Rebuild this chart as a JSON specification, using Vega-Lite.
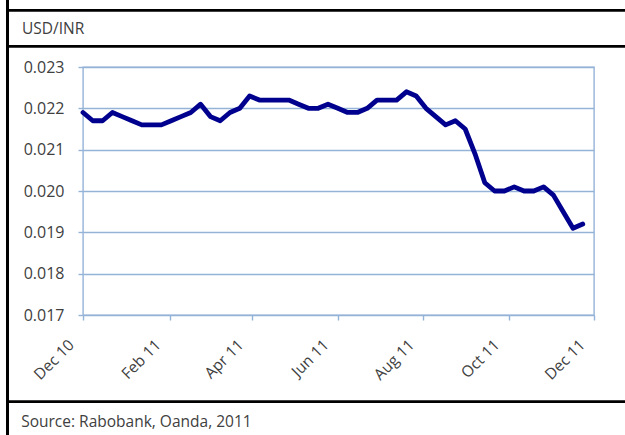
{
  "$schema": "https://vega.github.io/schema/vega-lite/v6.json",
  "width": 511,
  "height": 248,
  "autosize": {"type": "none"},
  "padding": {"left": 83, "top": 67, "right": 31, "bottom": 120},
  "background": "white",
  "config": {
    "view": {"stroke": "#95B3D7", "strokeWidth": 1.4},
    "font": "Open Sans"
  },
  "datasets": {
    "rates": [
      {"date": "2010-12-01", "rate": 0.0219},
      {"date": "2010-12-08", "rate": 0.0217},
      {"date": "2010-12-15", "rate": 0.0217},
      {"date": "2010-12-22", "rate": 0.0219},
      {"date": "2010-12-29", "rate": 0.0218},
      {"date": "2011-01-05", "rate": 0.0217},
      {"date": "2011-01-12", "rate": 0.0216},
      {"date": "2011-01-19", "rate": 0.0216},
      {"date": "2011-01-26", "rate": 0.0216},
      {"date": "2011-02-02", "rate": 0.0217},
      {"date": "2011-02-09", "rate": 0.0218},
      {"date": "2011-02-16", "rate": 0.0219},
      {"date": "2011-02-23", "rate": 0.0221},
      {"date": "2011-03-02", "rate": 0.0218},
      {"date": "2011-03-09", "rate": 0.0217},
      {"date": "2011-03-16", "rate": 0.0219},
      {"date": "2011-03-23", "rate": 0.0220},
      {"date": "2011-03-30", "rate": 0.0223},
      {"date": "2011-04-06", "rate": 0.0222},
      {"date": "2011-04-13", "rate": 0.0222},
      {"date": "2011-04-20", "rate": 0.0222},
      {"date": "2011-04-27", "rate": 0.0222},
      {"date": "2011-05-04", "rate": 0.0221},
      {"date": "2011-05-11", "rate": 0.0220},
      {"date": "2011-05-18", "rate": 0.0220},
      {"date": "2011-05-25", "rate": 0.0221},
      {"date": "2011-06-01", "rate": 0.0220},
      {"date": "2011-06-08", "rate": 0.0219},
      {"date": "2011-06-15", "rate": 0.0219},
      {"date": "2011-06-22", "rate": 0.0220},
      {"date": "2011-06-29", "rate": 0.0222},
      {"date": "2011-07-06", "rate": 0.0222},
      {"date": "2011-07-13", "rate": 0.0222},
      {"date": "2011-07-20", "rate": 0.0224},
      {"date": "2011-07-27", "rate": 0.0223},
      {"date": "2011-08-03", "rate": 0.0220},
      {"date": "2011-08-10", "rate": 0.0218},
      {"date": "2011-08-17", "rate": 0.0216},
      {"date": "2011-08-24", "rate": 0.0217},
      {"date": "2011-08-31", "rate": 0.0215},
      {"date": "2011-09-07", "rate": 0.0209},
      {"date": "2011-09-14", "rate": 0.0202},
      {"date": "2011-09-21", "rate": 0.0200},
      {"date": "2011-09-28", "rate": 0.0200},
      {"date": "2011-10-05", "rate": 0.0201},
      {"date": "2011-10-12", "rate": 0.0200},
      {"date": "2011-10-19", "rate": 0.0200},
      {"date": "2011-10-26", "rate": 0.0201},
      {"date": "2011-11-02", "rate": 0.0199},
      {"date": "2011-11-09", "rate": 0.0195},
      {"date": "2011-11-16", "rate": 0.0191},
      {"date": "2011-11-23", "rate": 0.0192}
    ],
    "one": [{}]
  },
  "layer": [
    {
      "data": {"name": "rates"},
      "mark": {"type": "line", "color": "#00008E", "strokeWidth": 4.8, "strokeJoin": "round", "strokeCap": "round"},
      "encoding": {
        "x": {
          "field": "date",
          "type": "temporal",
          "scale": {
            "type": "utc",
            "domain": [
              {"year": 2010, "month": 12, "date": 1, "utc": true},
              {"year": 2011, "month": 12, "date": 1, "utc": true}
            ],
            "nice": false
          },
          "axis": {
            "orient": "bottom",
            "values": [
              {"year": 2010, "month": 12, "date": 1, "utc": true},
              {"year": 2011, "month": 2, "date": 1, "utc": true},
              {"year": 2011, "month": 4, "date": 1, "utc": true},
              {"year": 2011, "month": 6, "date": 1, "utc": true},
              {"year": 2011, "month": 8, "date": 1, "utc": true},
              {"year": 2011, "month": 10, "date": 1, "utc": true},
              {"year": 2011, "month": 12, "date": 1, "utc": true}
            ],
            "format": "%b %y",
            "domain": false,
            "grid": false,
            "ticks": true,
            "tickColor": "#95B3D7",
            "tickWidth": 1.4,
            "tickSize": 5,
            "labelAngle": -45,
            "labelAlign": "right",
            "labelBaseline": "middle",
            "labelPadding": 22,
            "labelOffset": -12,
            "labelFontSize": 15.5,
            "labelColor": "#404040",
            "labelFont": "Open Sans",
            "labelOverlap": false,
            "title": "Source: Rabobank, Oanda, 2011",
            "titleX": -62.3,
            "titleY": 111.7,
            "titleAngle": 0,
            "titleAlign": "left",
            "titleAnchor": null,
            "titleBaseline": "alphabetic",
            "titleFontWeight": "normal",
            "titleFontSize": 15.5,
            "titleColor": "#404040",
            "titleFont": "Open Sans"
          }
        },
        "y": {
          "field": "rate",
          "type": "quantitative",
          "scale": {"domain": [0.017, 0.023], "nice": false, "zero": false},
          "axis": {
            "orient": "left",
            "values": [0.017, 0.018, 0.019, 0.020, 0.021, 0.022, 0.023],
            "format": ".3f",
            "domain": false,
            "grid": true,
            "gridColor": "#95B3D7",
            "gridWidth": 1.4,
            "ticks": true,
            "tickColor": "#95B3D7",
            "tickWidth": 1.4,
            "tickSize": 5,
            "labelPadding": 14,
            "labelFontSize": 16,
            "labelColor": "#404040",
            "labelFont": "Open Sans",
            "title": "USD/INR",
            "titleX": -61.5,
            "titleY": -34,
            "titleAngle": 0,
            "titleAlign": "left",
            "titleAnchor": null,
            "titleBaseline": "alphabetic",
            "titleFontWeight": "normal",
            "titleFontSize": 15.5,
            "titleColor": "#404040",
            "titleFont": "Open Sans"
          }
        }
      }
    },
    {
      "data": {"name": "one"},
      "mark": {"type": "rule", "color": "#000000", "strokeWidth": 3},
      "encoding": {
        "x": {"datum": {"year": 2010, "month": 10, "date": 8, "hours": 1, "minutes": 41, "utc": true}, "type": "temporal"},
        "y": {"datum": 0.0247, "type": "quantitative"},
        "y2": {"datum": 0.0140}
      }
    },
    {
      "data": {"name": "one"},
      "mark": {"type": "rule", "color": "#000000", "strokeWidth": 2.7},
      "encoding": {
        "y": {"datum": 0.0243718, "type": "quantitative"},
        "x": {"datum": {"year": 2010, "month": 10, "date": 8, "hours": 1, "minutes": 41, "utc": true}, "type": "temporal"},
        "x2": {"datum": {"year": 2011, "month": 12, "date": 24, "utc": true}}
      }
    },
    {
      "data": {"name": "one"},
      "mark": {"type": "rule", "color": "#000000", "strokeWidth": 2.7},
      "encoding": {
        "y": {"datum": 0.0235008, "type": "quantitative"},
        "x": {"datum": {"year": 2010, "month": 10, "date": 8, "hours": 1, "minutes": 41, "utc": true}, "type": "temporal"},
        "x2": {"datum": {"year": 2011, "month": 12, "date": 24, "utc": true}}
      }
    },
    {
      "data": {"name": "one"},
      "mark": {"type": "rule", "color": "#000000", "strokeWidth": 2.7},
      "encoding": {
        "y": {"datum": 0.0149023, "type": "quantitative"},
        "x": {"datum": {"year": 2010, "month": 10, "date": 8, "hours": 1, "minutes": 41, "utc": true}, "type": "temporal"},
        "x2": {"datum": {"year": 2011, "month": 12, "date": 24, "utc": true}}
      }
    }
  ]
}
